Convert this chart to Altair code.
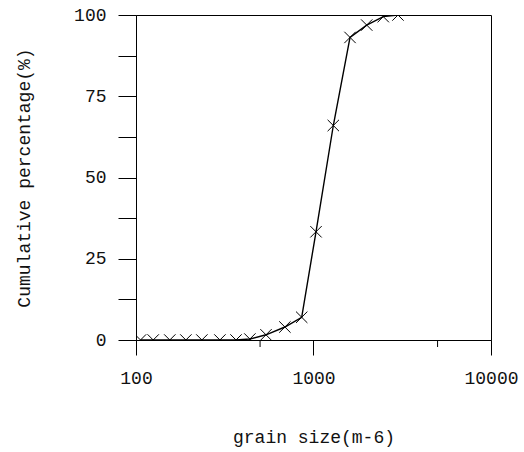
import altair as alt
import pandas as pd

# grain size (micrometres) and cumulative percentage
grain_size = [106, 125, 155, 191, 235, 297, 366, 438, 540, 690, 858,
              1033, 1293, 1606, 1994, 2472, 2992]
cum_pct = [0, 0, 0, 0, 0, 0, 0, 0.3, 1.6, 4.0, 7.0,
           33.3, 66.0, 93.1, 96.9, 99.5, 100]

x_major = [100, 1000, 10000]
x_minor = [500, 5000]
y_ticks = [0, 12.5, 25, 37.5, 50, 62.5, 75, 87.5, 100]

df = pd.DataFrame({"size": grain_size, "pct": cum_pct})
df_minor = pd.DataFrame({"size": x_minor})

FONT = "Liberation Mono"
W, H = 355, 325

xscale = alt.Scale(type="log", domain=[100, 10000], nice=False)
yscale = alt.Scale(domain=[0, 100], nice=False, zero=True)

xaxis = alt.Axis(
    values=x_major, format="d", tickSize=15, labelPadding=23,
    labelBaseline="middle", labelFlush=False, labelOverlap=False,
    title="grain size(m-6)", titleX=W / 2, titleY=97,
    titleBaseline="middle", titleAlign="center",
    grid=False,
)
yaxis = alt.Axis(
    values=y_ticks, tickSize=18, labelPadding=12,
    labelExpr="datum.value % 25 == 0 ? datum.label : ''",
    labelOverlap=False, labelFlush=False,
    title="Cumulative percentage(%)", titleX=-112, titleY=H / 2,
    titleAngle=270, titleBaseline="middle", titleAlign="center",
    grid=False,
)

line = alt.Chart(df).mark_line(color="black", strokeWidth=1.4, clip=True).encode(
    x=alt.X("size:Q", scale=xscale, axis=xaxis),
    y=alt.Y("pct:Q", scale=yscale, axis=yaxis),
)

cross = "M-1,-1L1,1M-1,1L1,-1"
points = alt.Chart(df).mark_point(
    shape=cross, size=130, filled=False, color="black", strokeWidth=1,
    opacity=1, clip=True,
).encode(
    x=alt.X("size:Q", scale=xscale),
    y=alt.Y("pct:Q", scale=yscale),
)

minor = alt.Chart(df_minor).mark_rule(color="black", strokeWidth=1).encode(
    x=alt.X("size:Q", scale=xscale),
    y=alt.value(H),
    y2=alt.value(H + 7),
)

chart = alt.layer(line, points, minor).properties(
    width=W, height=H,
    background="white",
    autosize=alt.AutoSizeParams(type="none"),
    padding={"left": 136, "top": 15, "right": 33, "bottom": 112},
).configure_view(
    stroke="black", strokeWidth=1,
).configure_axis(
    domainColor="black", domainWidth=1, tickColor="black", tickWidth=1,
    labelFont=FONT, labelFontSize=18, labelColor="#111",
    titleFont=FONT, titleFontSize=18, titleColor="#111",
    titleFontWeight="normal",
)

chart.save("out.html", embed_options={"renderer": "svg", "actions": False})
